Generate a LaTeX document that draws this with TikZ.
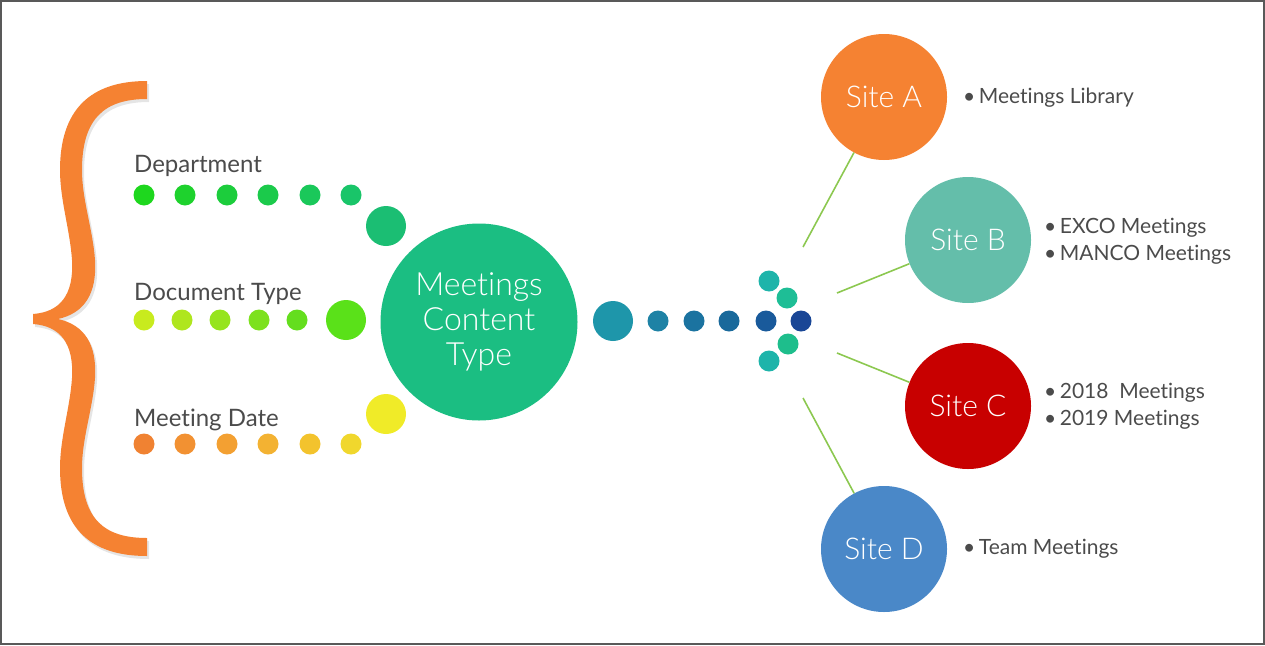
\documentclass[tikz,border=0pt]{standalone}
\usepackage{fontspec}
\setmainfont{Lato}[Ligatures=NoCommon]
\newfontfamily\latolight{Lato Light}[Ligatures=NoCommon]
\usepackage{tikz}
\definecolor{braceorange}{RGB}{245,130,50}
\definecolor{mctgreen}{RGB}{27,190,130}
\definecolor{linkgreen}{RGB}{140,200,80}
\definecolor{labelgray}{RGB}{75,75,75}
\definecolor{siteA}{RGB}{245,130,50}
\definecolor{siteB}{RGB}{100,190,170}
\definecolor{siteC}{RGB}{200,0,0}
\definecolor{siteD}{RGB}{74,136,200}
\newcommand{\bracepath}{(147,81) .. controls (90,81) and (60,110) .. (60,170)
  .. controls (60,200) and (70,230) .. (72,260) .. controls (74,295) and (60,312) .. (33,314)
  -- (33,324) .. controls (60,326) and (74,343) .. (72,378)
  .. controls (70,408) and (60,438) .. (60,468) .. controls (60,528) and (90,556) .. (147,556)
  -- (147,538) .. controls (105,538) and (82,520) .. (82,468)
  .. controls (82,438) and (93,408) .. (95,378) .. controls (97,345) and (85,325) .. (58,319)
  .. controls (85,313) and (97,293) .. (95,260) .. controls (93,230) and (82,200) .. (82,170)
  .. controls (82,118) and (105,99) .. (147,99) -- cycle}

\begin{document}
\begin{tikzpicture}[x=1pt, y=-1pt,
  dot/.style={circle, inner sep=0, minimum size=21},
  bigdot/.style={circle, inner sep=0, minimum size=40},
  site/.style={circle, inner sep=0, minimum size=126, text=white, font=\latolight\fontsize{30}{34}\selectfont},
  rowlabel/.style={anchor=west, text=labelgray, inner sep=0, font=\fontsize{24}{28}\selectfont},
  items/.style={anchor=west, align=left, text=labelgray, inner sep=0, font=\fontsize{21}{27}\selectfont},
  link/.style={draw=linkgreen, line width=1.6}]
\useasboundingbox (0,0) rectangle (1265,645);
\draw[line width=2, black!65] (1,1) rectangle (1264,644);

% brace with its shadow
\fill[black, opacity=0.1, shift={(2,3)}] \bracepath;
\fill[braceorange] \bracepath;

% Department
\node[rowlabel] (dep) at (134,166) {Department};
\node[dot, fill={rgb,255:red,30;green,215;blue,30}] (dep1) at (144,195) {};
\node[dot, fill={rgb,255:red,30;green,210;blue,45}] (dep2) at (185,195) {};
\node[dot, fill={rgb,255:red,28;green,205;blue,60}] (dep3) at (227,195) {};
\node[dot, fill={rgb,255:red,27;green,202;blue,75}] (dep4) at (268,195) {};
\node[dot, fill={rgb,255:red,26;green,200;blue,90}] (dep5) at (310,195) {};
\node[dot, fill={rgb,255:red,25;green,197;blue,105}] (dep6) at (351,195) {};
\node[bigdot, fill={rgb,255:red,27;green,190;blue,115}] (dep7) at (386,226) {};

% Document Type
\node[rowlabel] (doc) at (134,294) {Document Type};
\node[dot, fill={rgb,255:red,200;green,235;blue,30}] (doc1) at (144,320) {};
\node[dot, fill={rgb,255:red,175;green,230;blue,30}] (doc2) at (182,320) {};
\node[dot, fill={rgb,255:red,150;green,228;blue,30}] (doc3) at (220,320) {};
\node[dot, fill={rgb,255:red,125;green,225;blue,30}] (doc4) at (259,320) {};
\node[dot, fill={rgb,255:red,100;green,222;blue,30}] (doc5) at (297,320) {};
\node[bigdot, fill={rgb,255:red,90;green,225;blue,25}] (doc6) at (346,320) {};

% Meeting Date
\node[rowlabel] (dat) at (134,420) {Meeting Date};
\node[dot, fill={rgb,255:red,240;green,130;blue,50}] (dat1) at (144,444) {};
\node[dot, fill={rgb,255:red,242;green,145;blue,50}] (dat2) at (185,444) {};
\node[dot, fill={rgb,255:red,243;green,160;blue,50}] (dat3) at (227,444) {};
\node[dot, fill={rgb,255:red,243;green,178;blue,50}] (dat4) at (268,444) {};
\node[dot, fill={rgb,255:red,243;green,195;blue,45}] (dat5) at (310,444) {};
\node[dot, fill={rgb,255:red,240;green,215;blue,45}] (dat6) at (351,444) {};
\node[bigdot, fill={rgb,255:red,240;green,235;blue,40}] (dat7) at (386,414) {};

\node[circle, inner sep=0, minimum size=197, fill=mctgreen, text=white, align=center,
  font=\latolight\fontsize{32}{35}\selectfont] (mct) at (479,322) {Meetings\\Content\\Type};

% arrow of dots
\node[bigdot, fill={rgb,255:red,30;green,150;blue,170}] (arr0) at (613,321) {};
\node[dot, fill={rgb,255:red,30;green,130;blue,165}] (arr1) at (658,321) {};
\node[dot, fill={rgb,255:red,27;green,115;blue,160}] (arr2) at (694,321) {};
\node[dot, fill={rgb,255:red,25;green,105;blue,155}] (arr3) at (729,321) {};
\node[dot, fill={rgb,255:red,25;green,90;blue,155}] (arr4) at (766,321) {};
\node[dot, fill={rgb,255:red,25;green,70;blue,150}] (arr5) at (801,321) {};
\node[dot, fill={rgb,255:red,30;green,180;blue,170}] (up1) at (769,281) {};
\node[dot, fill={rgb,255:red,30;green,190;blue,150}] (up2) at (787,298) {};
\node[dot, fill={rgb,255:red,30;green,190;blue,140}] (lo2) at (788,344) {};
\node[dot, fill={rgb,255:red,30;green,180;blue,170}] (lo1) at (769,361) {};

% sites
\node[site, fill=siteA] (sa) at (884,97) {Site A};
\node[site, fill=siteB] (sb) at (968,240) {Site B};
\node[site, fill=siteC] (sc) at (968,406) {Site C};
\node[site, fill=siteD] (sd) at (884,549) {Site D};

\coordinate (ea) at (803,247);
\coordinate (eb) at (837,293);
\coordinate (ec) at (837,353);
\coordinate (ed) at (803,398);
\draw[link] (ea) -- (sa);
\draw[link] (eb) -- (sb);
\draw[link] (ec) -- (sc);
\draw[link] (ed) -- (sd);

\node[items] (ia) at (963,98) {\textbullet\,Meetings Library};
\node[items] (ib) at (1044,241) {\textbullet\,EXCO Meetings\\\textbullet\,MANCO Meetings};
\node[items] (ic) at (1044,406) {\textbullet\,2018~~Meetings\\\textbullet\,2019 Meetings};
\node[items] (id) at (963,549) {\textbullet\,Team Meetings};
\end{tikzpicture}
\end{document}
